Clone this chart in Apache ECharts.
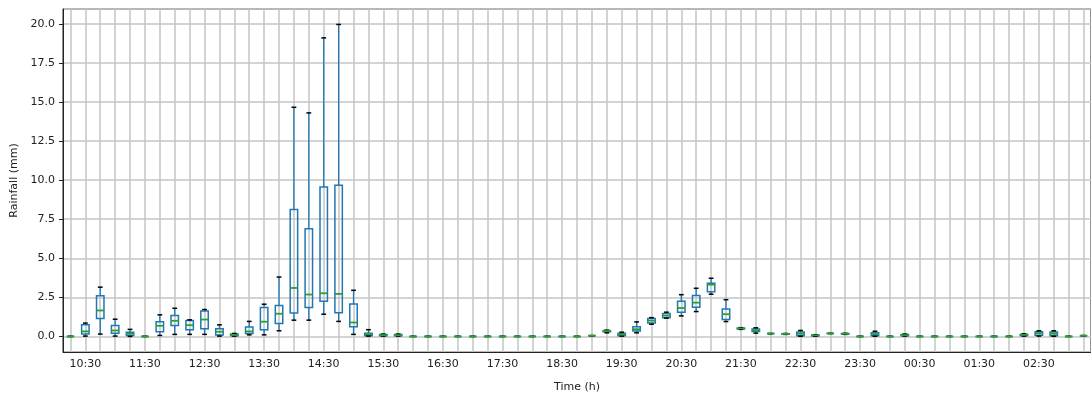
<!DOCTYPE html>
<html>
<head>
<meta charset="utf-8">
<script src="https://cdn.jsdelivr.net/npm/echarts@6/dist/echarts.min.js"></script>
<style>
  html, body { margin: 0; padding: 0; background: #fff; }
  #chart { width: 1091px; height: 398px; }
</style>
</head>
<body>
<div id="chart"></div>
<script>
// 15-minute time slots, 10:15 -> 03:15
const times = [
  '10:15', '10:30', '10:45', '11:00', '11:15', '11:30', '11:45', '12:00', '12:15', '12:30', '12:45', '13:00',
  '13:15', '13:30', '13:45', '14:00', '14:15', '14:30', '14:45', '15:00', '15:15', '15:30', '15:45', '16:00',
  '16:15', '16:30', '16:45', '17:00', '17:15', '17:30', '17:45', '18:00', '18:15', '18:30', '18:45', '19:00',
  '19:15', '19:30', '19:45', '20:00', '20:15', '20:30', '20:45', '21:00', '21:15', '21:30', '21:45', '22:00',
  '22:15', '22:30', '22:45', '23:00', '23:15', '23:30', '23:45', '00:00', '00:15', '00:30', '00:45', '01:00',
  '01:15', '01:30', '01:45', '02:00', '02:15', '02:30', '02:45', '03:00', '03:15'
]

// boxplot statistics per slot (mm)
const whiskerLow = [
  0, 0.02, 0.15, 0.02, 0, 0, 0.06, 0.13, 0.13, 0.13, 0.02, 0.02,
  0.1, 0.1, 0.36, 1.04, 1.04, 1.42, 0.96, 0.13, 0.02, 0.02, 0.02, 0,
  0, 0, 0, 0, 0, 0, 0, 0, 0, 0, 0, 0.05,
  0.23, 0.02, 0.23, 0.78, 1.17, 1.31, 1.59, 2.7, 0.95, 0.45, 0.21, 0.18,
  0.13, 0.01, 0.01, 0.19, 0.13, 0, 0.01, 0, 0.02, 0, 0, 0,
  0, 0, 0, 0, 0.02, 0.02, 0.01, 0, 0.05
]
const q1 = [
  0, 0.15, 1.15, 0.21, 0.06, 0, 0.3, 0.7, 0.43, 0.49, 0.09, 0.05,
  0.19, 0.43, 0.83, 1.49, 1.85, 2.25, 1.51, 0.62, 0.04, 0.04, 0.04, 0,
  0, 0, 0, 0, 0, 0, 0, 0, 0, 0, 0, 0.05,
  0.3, 0.04, 0.34, 0.85, 1.2, 1.55, 1.87, 2.86, 1.08, 0.48, 0.32, 0.18,
  0.15, 0.04, 0.03, 0.19, 0.15, 0, 0.04, 0, 0.04, 0, 0, 0,
  0, 0, 0, 0, 0.05, 0.08, 0.04, 0, 0.05
]
const median = [
  0, 0.32, 1.66, 0.38, 0.17, 0, 0.68, 1.0, 0.72, 1.08, 0.3, 0.09,
  0.32, 0.94, 1.45, 3.1, 2.68, 2.76, 2.72, 0.89, 0.15, 0.08, 0.08, 0,
  0, 0, 0, 0, 0, 0, 0, 0, 0, 0, 0, 0.05,
  0.34, 0.12, 0.46, 1.01, 1.33, 1.82, 2.16, 3.31, 1.42, 0.51, 0.38, 0.18,
  0.16, 0.17, 0.07, 0.19, 0.17, 0, 0.15, 0, 0.08, 0, 0, 0,
  0, 0, 0, 0, 0.1, 0.21, 0.17, 0, 0.05
]
const q3 = [
  0, 0.74, 2.6, 0.7, 0.26, 0, 0.94, 1.34, 1.02, 1.62, 0.49, 0.15,
  0.6, 1.85, 1.98, 8.12, 6.89, 9.56, 9.67, 2.08, 0.21, 0.12, 0.12, 0,
  0, 0, 0, 0, 0, 0, 0, 0, 0, 0, 0, 0.05,
  0.37, 0.21, 0.61, 1.14, 1.46, 2.25, 2.61, 3.4, 1.76, 0.53, 0.47, 0.18,
  0.17, 0.28, 0.09, 0.19, 0.18, 0, 0.23, 0, 0.12, 0, 0, 0,
  0, 0, 0, 0, 0.13, 0.3, 0.28, 0, 0.05
]
const whiskerHigh = [
  0, 0.85, 3.15, 1.1, 0.45, 0, 1.38, 1.8, 1.06, 1.72, 0.74, 0.19,
  0.96, 2.06, 3.8, 14.66, 14.3, 19.1, 19.96, 2.95, 0.43, 0.15, 0.15, 0,
  0, 0, 0, 0, 0, 0, 0, 0, 0, 0, 0, 0.05,
  0.4, 0.27, 0.93, 1.2, 1.55, 2.67, 3.08, 3.72, 2.35, 0.56, 0.55, 0.18,
  0.19, 0.38, 0.11, 0.19, 0.2, 0, 0.33, 0, 0.15, 0, 0, 0,
  0, 0, 0, 0, 0.17, 0.36, 0.36, 0, 0.05
]

const BLUE = '#1f77b4'
const GREEN = '#2ca02c'
const FONT = 'DejaVu Sans'

// only every 4th slot (the half hours) gets a label and a tick
const onHalfHour = (idx) => idx % 4 === 1

function renderBox(params, api) {
  const i = api.value(0)
  const band = api.size([1, 0])[0]
  const boxW = band * 0.5
  const capW = band * 0.32
  const pMin = api.coord([i, api.value(1)])
  const pQ1 = api.coord([i, api.value(2)])
  const pMed = api.coord([i, api.value(3)])
  const pQ3 = api.coord([i, api.value(4)])
  const pMax = api.coord([i, api.value(5)])
  const cx = pMin[0]
  const line = (x1, y1, x2, y2, color, w) => ({
    type: 'line',
    shape: { x1, y1, x2, y2 },
    style: { stroke: color, lineWidth: w },
  })
  return {
    type: 'group',
    children: [
      line(cx, pQ1[1], cx, pMin[1], BLUE, 1.3),
      line(cx, pQ3[1], cx, pMax[1], BLUE, 1.3),
      {
        type: 'rect',
        shape: { x: cx - boxW / 2, y: pQ3[1], width: boxW, height: pQ1[1] - pQ3[1] },
        style: { fill: 'none', stroke: BLUE, lineWidth: 1.5 },
      },
      line(cx - capW / 2, pMin[1], cx + capW / 2, pMin[1], '#000', 1.5),
      line(cx - capW / 2, pMax[1], cx + capW / 2, pMax[1], '#000', 1.5),
      line(cx - boxW / 2, pMed[1], cx + boxW / 2, pMed[1], GREEN, 1.8),
    ],
  }
}

const rows = times.map((t, i) => [i, whiskerLow[i], q1[i], median[i], q3[i], whiskerHigh[i]])

const chart = echarts.init(document.getElementById('chart'), null, { renderer: 'canvas' })

chart.setOption({
  animation: false,
  backgroundColor: '#fff',
  textStyle: { fontFamily: FONT },
  grid: {
    left: 63, right: -7, top: 9, bottom: 45,
    show: true, borderColor: '#222', borderWidth: 1, backgroundColor: 'transparent',
  },
  xAxis: {
    type: 'category',
    data: times,
    boundaryGap: true,
    name: 'Time (h)',
    nameLocation: 'middle',
    nameGap: 30,
    nameTextStyle: { fontFamily: FONT, fontSize: 11, color: '#222' },
    axisLine: { onZero: false, lineStyle: { color: '#222', width: 1 } },
    axisTick: { interval: onHalfHour, alignWithLabel: true, length: 4, lineStyle: { color: '#222' } },
    axisLabel: { interval: onHalfHour, fontFamily: FONT, fontSize: 11, color: '#222', margin: 7 },
    splitLine: { show: true, interval: 0, alignWithLabel: true, lineStyle: { color: '#c4c4c4', width: 1.5 } },
  },
  yAxis: {
    type: 'value',
    min: -0.9975,
    max: 20.9475,
    minInterval: 2.5,
    maxInterval: 2.5,
    name: 'Rainfall (mm)',
    nameLocation: 'middle',
    nameGap: 38,
    nameTextStyle: { fontFamily: FONT, fontSize: 11, color: '#222' },
    axisLine: { show: true, onZero: false, lineStyle: { color: '#222', width: 1 } },
    axisTick: { show: true, length: 4, lineStyle: { color: '#222' } },
    axisLabel: {
      fontFamily: FONT, fontSize: 11, color: '#222', margin: 8,
      showMinLabel: false, showMaxLabel: false,
      formatter: (v) => (Math.abs(v / 2.5 - Math.round(v / 2.5)) < 1e-6 ? v.toFixed(1) : ''),
    },
    splitLine: { show: true, lineStyle: { color: '#c4c4c4', width: 1.5 } },
  },
  series: [{
    type: 'custom',
    name: 'Rainfall',
    renderItem: renderBox,
    encode: { x: 0, y: [1, 2, 3, 4, 5] },
    data: rows,
    clip: true,
    z: 3,
  }],
})
</script>
</body>
</html>
